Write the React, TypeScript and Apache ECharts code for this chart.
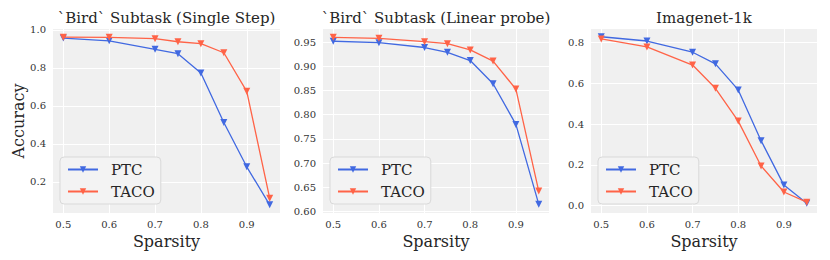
import React, { useEffect, useRef } from "react";
import * as echarts from "echarts";

const sparsity = [0.5, 0.6, 0.7, 0.75, 0.8, 0.85, 0.9, 0.95];
const xTicks = [0.5, 0.6, 0.7, 0.8, 0.9];

const singleStepPTC = [0.956, 0.942, 0.897, 0.874, 0.772, 0.512, 0.279, 0.079];
const singleStepTACO = [0.961, 0.96, 0.953, 0.937, 0.927, 0.879, 0.676, 0.114];
const singleStepTicks = [0.2, 0.4, 0.6, 0.8, 1.0];

const linearPTC = [0.952, 0.949, 0.939, 0.929, 0.912, 0.864, 0.78, 0.615];
const linearTACO = [0.96, 0.958, 0.951, 0.947, 0.934, 0.911, 0.853, 0.642];
const linearTicks = [0.6, 0.65, 0.7, 0.75, 0.8, 0.85, 0.9, 0.95];

const imagenetPTC = [0.829, 0.808, 0.753, 0.696, 0.568, 0.319, 0.101, 0.012];
const imagenetTACO = [0.818, 0.779, 0.69, 0.576, 0.415, 0.195, 0.067, 0.017];
const imagenetTicks = [0.0, 0.2, 0.4, 0.6, 0.8];

const titles = ["`Bird` Subtask (Single Step)", "`Bird` Subtask (Linear probe)", "Imagenet-1k"];
const seriesNames = ["PTC", "TACO"];

const FONT = "'DejaVu Serif', serif";
const BLUE = "#4169E1";
const RED = "#FF6347";

export default function App() {
  const ref = useRef<HTMLDivElement>(null);
  useEffect(() => {
    if (!ref.current) return;
    const chart = echarts.init(ref.current, null, { renderer: "svg" });
    const grids = [
      { left: 53, top: 29, width: 227, height: 184 },
      { left: 323, top: 29, width: 226, height: 184 },
      { left: 591, top: 29, width: 226, height: 184 },
    ];
    const yRanges = [
      { min: 0.036, max: 1.004, ticks: singleStepTicks, dec: 1 },
      { min: 0.5967, max: 0.9773, ticks: linearTicks, dec: 2 },
      { min: -0.036, max: 0.867, ticks: imagenetTicks, dec: 1 },
    ];
    const data = [
      [singleStepPTC, singleStepTACO],
      [linearPTC, linearTACO],
      [imagenetPTC, imagenetTACO],
    ];
    const colors = [BLUE, RED];

    const option: any = {
      animation: false,
      backgroundColor: "#ffffff",
      textStyle: { fontFamily: FONT },
      title: grids.map((g, i) => ({
        text: titles[i],
        left: g.left + g.width / 2,
        top: 10,
        textAlign: "center",
        padding: 0,
        textStyle: { fontFamily: FONT, fontSize: 15, fontWeight: "normal", color: "#262626" },
      })),
      grid: grids.map((g) => ({ ...g, backgroundColor: "#f0f0f0", show: true, borderWidth: 0 })),
      legend: grids.map((g) => ({
        orient: "vertical",
        left: g.left + 7,
        top: 157,
        data: seriesNames,
        itemWidth: 30,
        itemHeight: 8,
        itemGap: 7,
        padding: [5, 6, 5, 7],
        backgroundColor: "#f3f3f3",
        borderColor: "#d9d9d9",
        borderWidth: 1,
        borderRadius: 4,
        textStyle: { fontFamily: FONT, fontSize: 15, color: "#262626", padding: [0, 0, 0, 8] },
      })),
      xAxis: grids.map((g, i) => ({
        type: "value",
        gridIndex: i,
        min: 0.4775,
        max: 0.9725,
        name: "Sparsity",
        nameLocation: "middle",
        nameGap: 18,
        nameTextStyle: { fontFamily: FONT, fontSize: 16, color: "#262626", verticalAlign: "top" },
        axisLine: { show: false },
        axisTick: { show: false, customValues: xTicks },
        axisLabel: {
          customValues: xTicks,
          margin: 6,
          fontFamily: FONT,
          fontSize: 10,
          color: "#333333",
          formatter: (v: number) => v.toFixed(1),
        },
        splitLine: { show: true, lineStyle: { color: "#ffffff", width: 1 } },
      })),
      yAxis: grids.map((g, i) => ({
        type: "value",
        gridIndex: i,
        min: yRanges[i].min,
        max: yRanges[i].max,
        name: i === 0 ? "Accuracy" : "",
        nameLocation: "middle",
        nameGap: 27,
        nameTextStyle: { fontFamily: FONT, fontSize: 16, color: "#262626" },
        axisLine: { show: false },
        axisTick: { show: false, customValues: yRanges[i].ticks },
        axisLabel: {
          customValues: yRanges[i].ticks,
          margin: 7,
          fontFamily: FONT,
          fontSize: 10,
          color: "#333333",
          formatter: (v: number) => v.toFixed(yRanges[i].dec),
        },
        splitLine: { show: true, lineStyle: { color: "#ffffff", width: 1 } },
      })),
      series: data.flatMap((pair, i) =>
        pair.map((vals, k) => ({
          name: seriesNames[k],
          type: "line",
          xAxisIndex: i,
          yAxisIndex: i,
          data: sparsity.map((x, j) => [x, vals[j]]),
          symbol: "triangle",
          symbolRotate: 180,
          symbolSize: 7,
          showSymbol: true,
          color: colors[k],
          lineStyle: { color: colors[k], width: 1.3 },
          itemStyle: { color: colors[k] },
          z: 2 + k,
        }))
      ),
    };
    chart.setOption(option);
    return () => chart.dispose();
  }, []);
  return (
    <div
      ref={ref}
      style={{ position: "fixed", left: 0, top: 0, width: 830, height: 260 }}
    />
  );
}
